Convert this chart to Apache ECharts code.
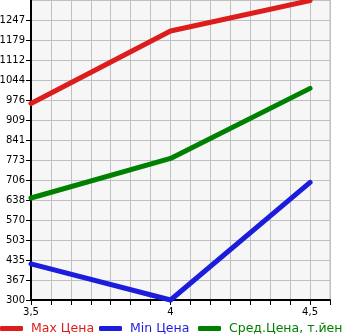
<!DOCTYPE html>
<html><head><meta charset="utf-8">
<script src="https://cdn.jsdelivr.net/npm/echarts@6/dist/echarts.min.js"></script>
<style>html,body{margin:0;padding:0;background:#fff}#c{width:345px;height:335px}</style>
</head><body><div id="c"></div>
<script>
const xValues = [3.5, 4, 4.5];
const xTickLabels = ['3,5', '4', '4,5'];
const maxPrice = [965, 1210, 1313];
const minPrice = [422, 300, 698];
const avgPrice = [645, 779, 1016];
const seriesNames = ['Max Цена', 'Min Цена', 'Сред.Цена, т.йен'];
const seriesColors = ['#dd1c1c', '#1c1cdd', '#008000'];
const yMin = 300, yMax = 1315;

const xStep = 1 / 14;
const legendLeft = [0, 99, 198];
const chart = echarts.init(document.getElementById('c'), null, {renderer: 'canvas'});
const mk = arr => xValues.map((x, i) => [x, arr[i]]);
const font = 'DejaVu Sans';
chart.setOption({
  animation: false,
  grid: {left: 31, right: 15, top: 0, bottom: 35, outerBoundsMode: 'none', containLabel: false, show: true, backgroundColor: '#f6f6f6', borderColor: '#c0c0c0', borderWidth: 1},
  legend: seriesNames.map((n, i) => ({
    bottom: 0, left: legendLeft[i], padding: 0, itemWidth: 23, itemHeight: 5, icon: 'roundRect',
    textStyle: {fontFamily: font, fontSize: 12.5, color: seriesColors[i], padding: [0, 0, 0, 3]},
    data: [n]
  })),
  xAxis: {
    type: 'value', min: 3.5, max: 3.5 + 15 * xStep, interval: xStep,
    axisLine: {onZero: false, lineStyle: {color: '#000', width: 2}},
    axisTick: {show: true, length: 5, lineStyle: {color: '#000'}},
    axisLabel: {margin: 7, fontFamily: font, fontSize: 10, color: '#000', showMaxLabel: false,
      formatter: v => { const k = Math.round((v - 3.5) / xStep); if (k % 7 !== 0) return ''; const idx = xValues.findIndex(x => Math.abs(x - v) < 1e-6); return idx >= 0 ? xTickLabels[idx] : ''; }},
    splitLine: {show: true, lineStyle: {color: '#c0c0c0', width: 1}}
  },
  yAxis: {
    type: 'value', min: yMin, max: yMax, interval: (yMax - yMin) / 15,
    axisLine: {show: true, onZero: false, lineStyle: {color: '#000', width: 2}},
    axisTick: {show: true, length: 5, lineStyle: {color: '#000'}},
    axisLabel: {margin: 6, fontFamily: font, fontSize: 10, color: '#000', showMaxLabel: false,
      formatter: v => v >= yMax - 1 ? '' : String(Math.floor(v + 1e-6))},
    splitLine: {show: true, lineStyle: {color: '#c0c0c0', width: 1}}
  },
  series: [maxPrice, minPrice, avgPrice].map((arr, i) => ({
    name: seriesNames[i], type: 'line', data: mk(arr), symbol: 'none', clip: false,
    lineStyle: {color: seriesColors[i], width: 5, cap: 'round', join: 'round'},
    itemStyle: {color: seriesColors[i]}
  }))
});
</script></body></html>
